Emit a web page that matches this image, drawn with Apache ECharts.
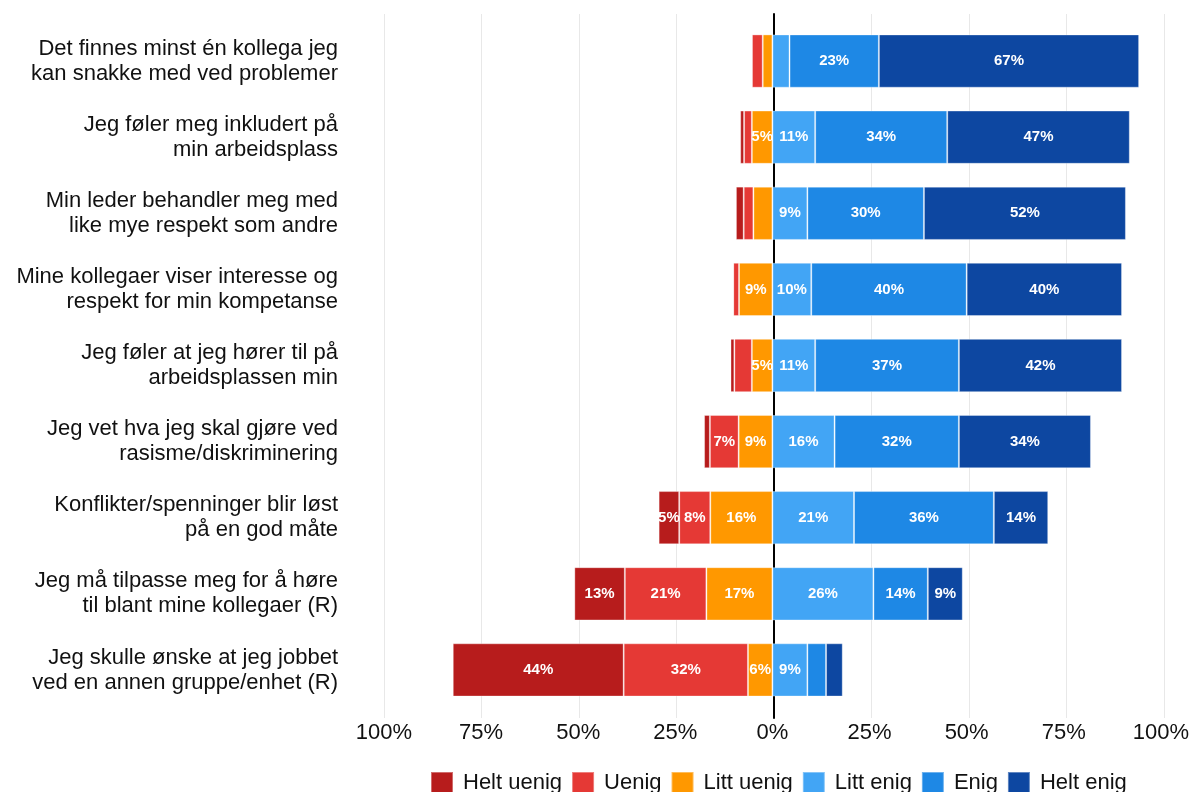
<!DOCTYPE html>
<html>
<head>
<meta charset="utf-8">
<script src="https://cdn.jsdelivr.net/npm/echarts@6/dist/echarts.min.js"></script>
<style>
	html, body { margin: 0; padding: 0; background: #fff; }
	#chart { width: 1192px; height: 792px; }
</style>
</head>
<body>
<div id="chart"></div>
<script>
//påstander (kategorier)
var categories = [
	'Det finnes minst én kollega jeg\nkan snakke med ved problemer',
	'Jeg føler meg inkludert på\nmin arbeidsplass',
	'Min leder behandler meg med\nlike mye respekt som andre',
	'Mine kollegaer viser interesse og\nrespekt for min kompetanse',
	'Jeg føler at jeg hører til på\narbeidsplassen min',
	'Jeg vet hva jeg skal gjøre ved\nrasisme/diskriminering',
	'Konflikter/spenninger blir løst\npå en god måte',
	'Jeg må tilpasse meg for å høre\ntil blant mine kollegaer (R)',
	'Jeg skulle ønske at jeg jobbet\nved en annen gruppe/enhet (R)'
];
//andeler i prosent
var heltUenig = [0, 1, 2, 0, 1, 1.5, 5.3, 13, 44];
var uenig = [2.8, 2, 2.5, 1.5, 4.5, 7.4, 8, 21, 32];
var littUenig = [2.5, 5.3, 4.9, 8.6, 5.3, 8.7, 16, 17, 6.3];
var littEnig = [4.4, 11, 9, 10, 11, 16, 21, 26, 9];
var enig = [23, 34, 30, 40, 37, 32, 36, 14, 4.8];
var heltEnig = [67, 47, 52, 40, 42, 34, 14, 9, 4.3];
//akse: -100 .. 100, steg 25
var axisMin = -100;
var axisMax = 100;
var axisStep = 25;

var font = "'Liberation Sans', Arial, Helvetica, sans-serif";

function neg(list) {
	return list.map(function(v) { return -v; });
}

function makeSeries(name, data, color) {
	return {
		name: name,
		type: 'bar',
		stack: 'total',
		data: data,
		barCategoryGap: '30%',
		itemStyle: {
			color: color,
			borderColor: 'rgba(255,255,255,0.35)',
			borderWidth: 1
		},
		label: {
			show: true,
			position: 'inside',
			color: '#fff',
			fontFamily: font,
			fontWeight: 'bold',
			fontSize: 15,
			formatter: function(p) {
				var v = Math.abs(p.value);
				return v >= 5 ? Math.round(v) + '%' : '';
			}
		}
	};
}

var chart = echarts.init(document.getElementById('chart'));
chart.setOption({
	animation: false,
	grid: [{
		//søylene
		left: 384,
		right: 28,
		top: 23,
		height: 685
	}, {
		//rutenett og nullinje, litt høyere enn søyleområdet
		left: 384,
		right: 28,
		top: 14,
		height: 704
	}],
	legend: {
		top: 771,
		left: 430,
		padding: 0,
		itemWidth: 22,
		itemHeight: 22,
		itemGap: 9,
		icon: 'rect',
		textStyle: { fontFamily: font, fontSize: 22, color: '#111', padding: [0, 0, 0, 5] },
		data: ['Helt uenig', 'Uenig', 'Litt uenig', 'Litt enig', 'Enig', 'Helt enig']
	},
	xAxis: [{
		gridIndex: 0,
		type: 'value',
		min: axisMin,
		max: axisMax,
		interval: axisStep,
		axisLine: { show: false },
		axisTick: { show: false },
		splitLine: { show: false },
		axisLabel: {
			margin: 14,
			fontFamily: font,
			fontSize: 22,
			color: '#111',
			formatter: function(v) { return Math.abs(v) + '%'; }
		}
	}, {
		gridIndex: 1,
		type: 'value',
		min: axisMin,
		max: axisMax,
		interval: axisStep,
		axisLine: { show: false },
		axisTick: { show: false },
		axisLabel: { show: false },
		splitLine: { lineStyle: { color: '#e8e8e8', width: 1 } }
	}],
	yAxis: [{
		gridIndex: 0,
		type: 'category',
		inverse: true,
		data: categories,
		axisLine: { show: false },
		axisTick: { show: false },
		axisLabel: {
			margin: 46,
			fontFamily: font,
			fontSize: 22,
			lineHeight: 25,
			padding: [4, 0, 0, 0],
			color: '#111',
			align: 'right'
		}
	}, {
		gridIndex: 1,
		type: 'value',
		min: 0,
		max: 1,
		splitLine: { show: false },
		axisTick: { show: false },
		axisLabel: { show: false },
		axisLine: { show: true, onZero: true, lineStyle: { color: '#000', width: 2 } }
	}],
	series: [
		//rekkefølge i stabelen: nærmest null først
		makeSeries('Litt uenig', neg(littUenig), '#FF9800'),
		makeSeries('Uenig', neg(uenig), '#E53935'),
		makeSeries('Helt uenig', neg(heltUenig), '#B71C1C'),
		makeSeries('Litt enig', littEnig, '#42A5F5'),
		makeSeries('Enig', enig, '#1E88E5'),
		makeSeries('Helt enig', heltEnig, '#0D47A1')
	]
});
</script>
</body>
</html>
